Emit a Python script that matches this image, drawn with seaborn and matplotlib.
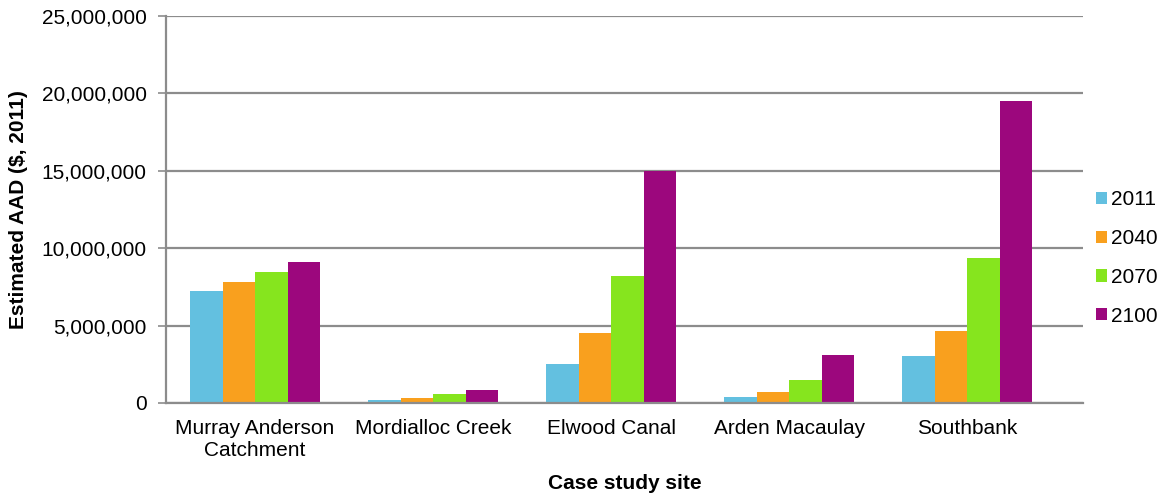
import matplotlib
matplotlib.use("Agg")
import matplotlib.pyplot as plt
import matplotlib.ticker as mticker
import seaborn as sns
import pandas as pd

sites = ["Murray Anderson\nCatchment", "Mordialloc Creek", "Elwood Canal",
         "Arden Macaulay", "Southbank"]
years = ["2011", "2040", "2070", "2100"]
aad_2011 = [7.23e6, 0.19e6, 2.52e6, 0.37e6, 3.04e6]
aad_2040 = [7.80e6, 0.35e6, 4.52e6, 0.73e6, 4.67e6]
aad_2070 = [8.44e6, 0.55e6, 8.22e6, 1.49e6, 9.35e6]
aad_2100 = [9.10e6, 0.84e6, 14.97e6, 3.08e6, 19.50e6]
colors = ["#63C0E0", "#F9A01E", "#86E51E", "#9C077D"]

rows = []
for yr, vals in zip(years, [aad_2011, aad_2040, aad_2070, aad_2100]):
    for s, v in zip(sites, vals):
        rows.append({"site": s, "year": yr, "aad": v})
df = pd.DataFrame(rows)

sns.set_style("white")
plt.rcParams["font.family"] = ["Liberation Sans", "DejaVu Sans"]
plt.rcParams["text.color"] = "black"
plt.rcParams["axes.labelcolor"] = "black"
plt.rcParams["xtick.color"] = "black"
plt.rcParams["ytick.color"] = "black"

W, H = 1164, 498
fig = plt.figure(figsize=(W / 100, H / 100), dpi=100)
ax = fig.add_axes([166 / W, 1 - 403 / H, (1083 - 166) / W, (403 - 16) / H])

sns.barplot(data=df, x="site", y="aad", hue="year", hue_order=years,
            palette=colors, width=0.73, saturation=1, ax=ax,
            edgecolor="none", linewidth=0, errorbar=None)

ax.set_xlim(-0.5, 4.65)
ax.set_ylim(0, 25e6)
ax.set_yticks([0, 5e6, 10e6, 15e6, 20e6, 25e6])
ax.yaxis.set_major_formatter(mticker.FuncFormatter(lambda v, p: f"{int(v):,}"))
ax.yaxis.grid(True, color="#8c8c8c", linewidth=1.6)
ax.set_axisbelow(True)
for side in ["top", "right"]:
    ax.spines[side].set_visible(False)
for side in ["left", "bottom"]:
    ax.spines[side].set_color("#8c8c8c")
    ax.spines[side].set_linewidth(1.6)

ax.tick_params(axis="y", which="major", left=True, length=6, width=1.2,
               color="#8c8c8c", labelcolor="black", labelsize=15, pad=8)
ax.tick_params(axis="x", bottom=False, labelcolor="black", labelsize=15, pad=8)
for lbl in ax.get_xticklabels():
    lbl.set_linespacing(1.2)

ax.set_xlabel("Case study site", fontsize=15, fontweight="bold", labelpad=10)
ax.set_ylabel("Estimated AAD ($, 2011)", fontsize=15, fontweight="bold", labelpad=10)

leg = ax.legend(title=None, loc="center left",
                bbox_to_anchor=(1096 / W, 1 - 258 / H),
                bbox_transform=fig.transFigure,
                frameon=False, fontsize=15, handlelength=0.53, handleheight=0.53,
                handletextpad=0.2, labelspacing=0.95, borderpad=0, borderaxespad=0)

fig.savefig("out.png", dpi=100)
